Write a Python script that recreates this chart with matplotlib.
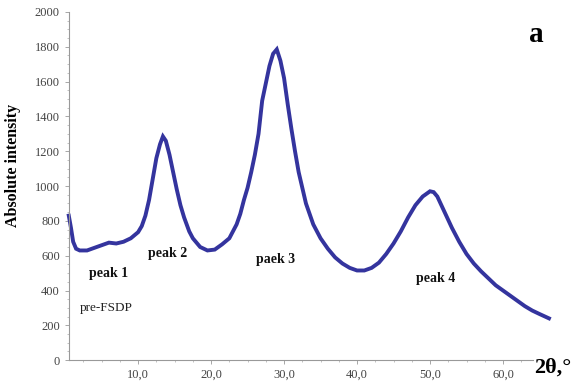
import matplotlib
matplotlib.use("Agg")
import matplotlib.pyplot as plt
from matplotlib.ticker import MultipleLocator

# -------------------------------------------------
# Data (read from the reference pattern)
# -------------------------------------------------

two_theta = [0.5, 0.8, 1.1, 1.5, 2.0, 3.0, 4.0, 5.0, 6.0, 7.0, 8.0, 9.0,
             10.0, 10.5, 11.0, 11.5, 12.0, 12.5, 13.0, 13.4, 13.8, 14.3,
             14.8, 15.3, 15.8, 16.3, 17.0, 17.5, 18.5, 19.5, 20.5, 21.5,
             22.5, 23.5, 24.0, 24.5, 25.0, 25.5, 26.0, 26.5, 27.0, 27.5,
             28.0, 28.5, 29.0, 29.5, 30.0, 30.5, 31.0, 31.5, 32.0, 33.0,
             34.0, 35.0, 36.0, 37.0, 38.0, 39.0, 40.0, 41.0, 42.0, 43.0,
             44.0, 45.0, 46.0, 47.0, 48.0, 49.0, 50.0, 50.5, 51.0, 52.0,
             53.0, 54.0, 55.0, 56.0, 57.0, 58.0, 59.0, 60.0, 61.0, 62.0,
             63.0, 64.0, 65.0, 66.3]

intensity = [830, 760, 680, 640, 630, 630, 645, 660, 675, 670, 680, 700,
             735, 770, 830, 920, 1040, 1160, 1240, 1285, 1260, 1180,
             1080, 980, 890, 820, 740, 700, 650, 630, 635, 665,
             700, 780, 840, 920, 990, 1080, 1180, 1300, 1490, 1590,
             1690, 1760, 1785, 1720, 1620, 1470, 1330, 1200, 1080, 900,
             780, 700, 640, 590, 555, 530, 515, 515, 530, 560,
             610, 670, 740, 820, 890, 940, 970, 965, 940, 850,
             760, 680, 610, 555, 510, 470, 430, 400, 370, 340,
             310, 285, 265, 240]

x_ticks = [10, 20, 30, 40, 50, 60]
x_tick_labels = ["10,0", "20,0", "30,0", "40,0", "50,0", "60,0"]
y_ticks = [0, 200, 400, 600, 800, 1000, 1200, 1400, 1600, 1800, 2000]

peak_labels = ["peak 1", "peak 2", "paek 3", "peak 4"]
peak_x = [6.0, 14.1, 28.8, 50.7]
peak_y = [500, 615, 580, 471]

# -------------------------------------------------
# Figure
# -------------------------------------------------

plt.rcParams["font.family"] = ["Liberation Serif", "DejaVu Serif"]

fig = plt.figure(figsize=(5.78, 3.86), dpi=100)
ax = fig.add_axes([0.119, 0.067, 0.803, 0.902])

ax.plot(two_theta, intensity, color="#34349e", linewidth=2.8,
        clip_on=False, solid_joinstyle="miter")

ax.set_xlim(0.5, 64.1)
ax.set_ylim(0, 2000)

ax.set_xticks(x_ticks)
ax.set_xticklabels(x_tick_labels)
ax.set_yticks(y_ticks)
ax.xaxis.set_minor_locator(MultipleLocator(2.5))
ax.yaxis.set_minor_locator(MultipleLocator(50))

ax.tick_params(axis="both", which="major", labelsize=9, colors="#999999",
               labelcolor="#444444", length=3, width=0.6)
ax.tick_params(axis="both", which="minor", colors="#aaaaaa",
               length=1.5, width=0.5)

for side in ["top", "right"]:
    ax.spines[side].set_visible(False)
for side in ["left", "bottom"]:
    ax.spines[side].set_color("#999999")
    ax.spines[side].set_linewidth(0.8)

ax.set_ylabel("Absolute intensity", fontsize=11.5, fontweight="bold")
ax.yaxis.set_label_coords(-0.103, 0.56)

for label, px, py in zip(peak_labels, peak_x, peak_y):
    ax.text(px, py, label, fontsize=10, fontweight="bold",
            ha="center", va="center", color="#111111")

ax.text(2.05, 299, "pre-FSDP", fontsize=9.5, ha="left", va="center",
        color="#222222")

ax.text(64.6, 1868, "a", fontsize=21, fontweight="bold",
        ha="center", va="center", clip_on=False)

fig.text(0.957, 0.047, "2θ,°", fontsize=16, fontweight="bold",
         ha="center", va="center")

plt.savefig("out.png", dpi=100)
plt.close()
